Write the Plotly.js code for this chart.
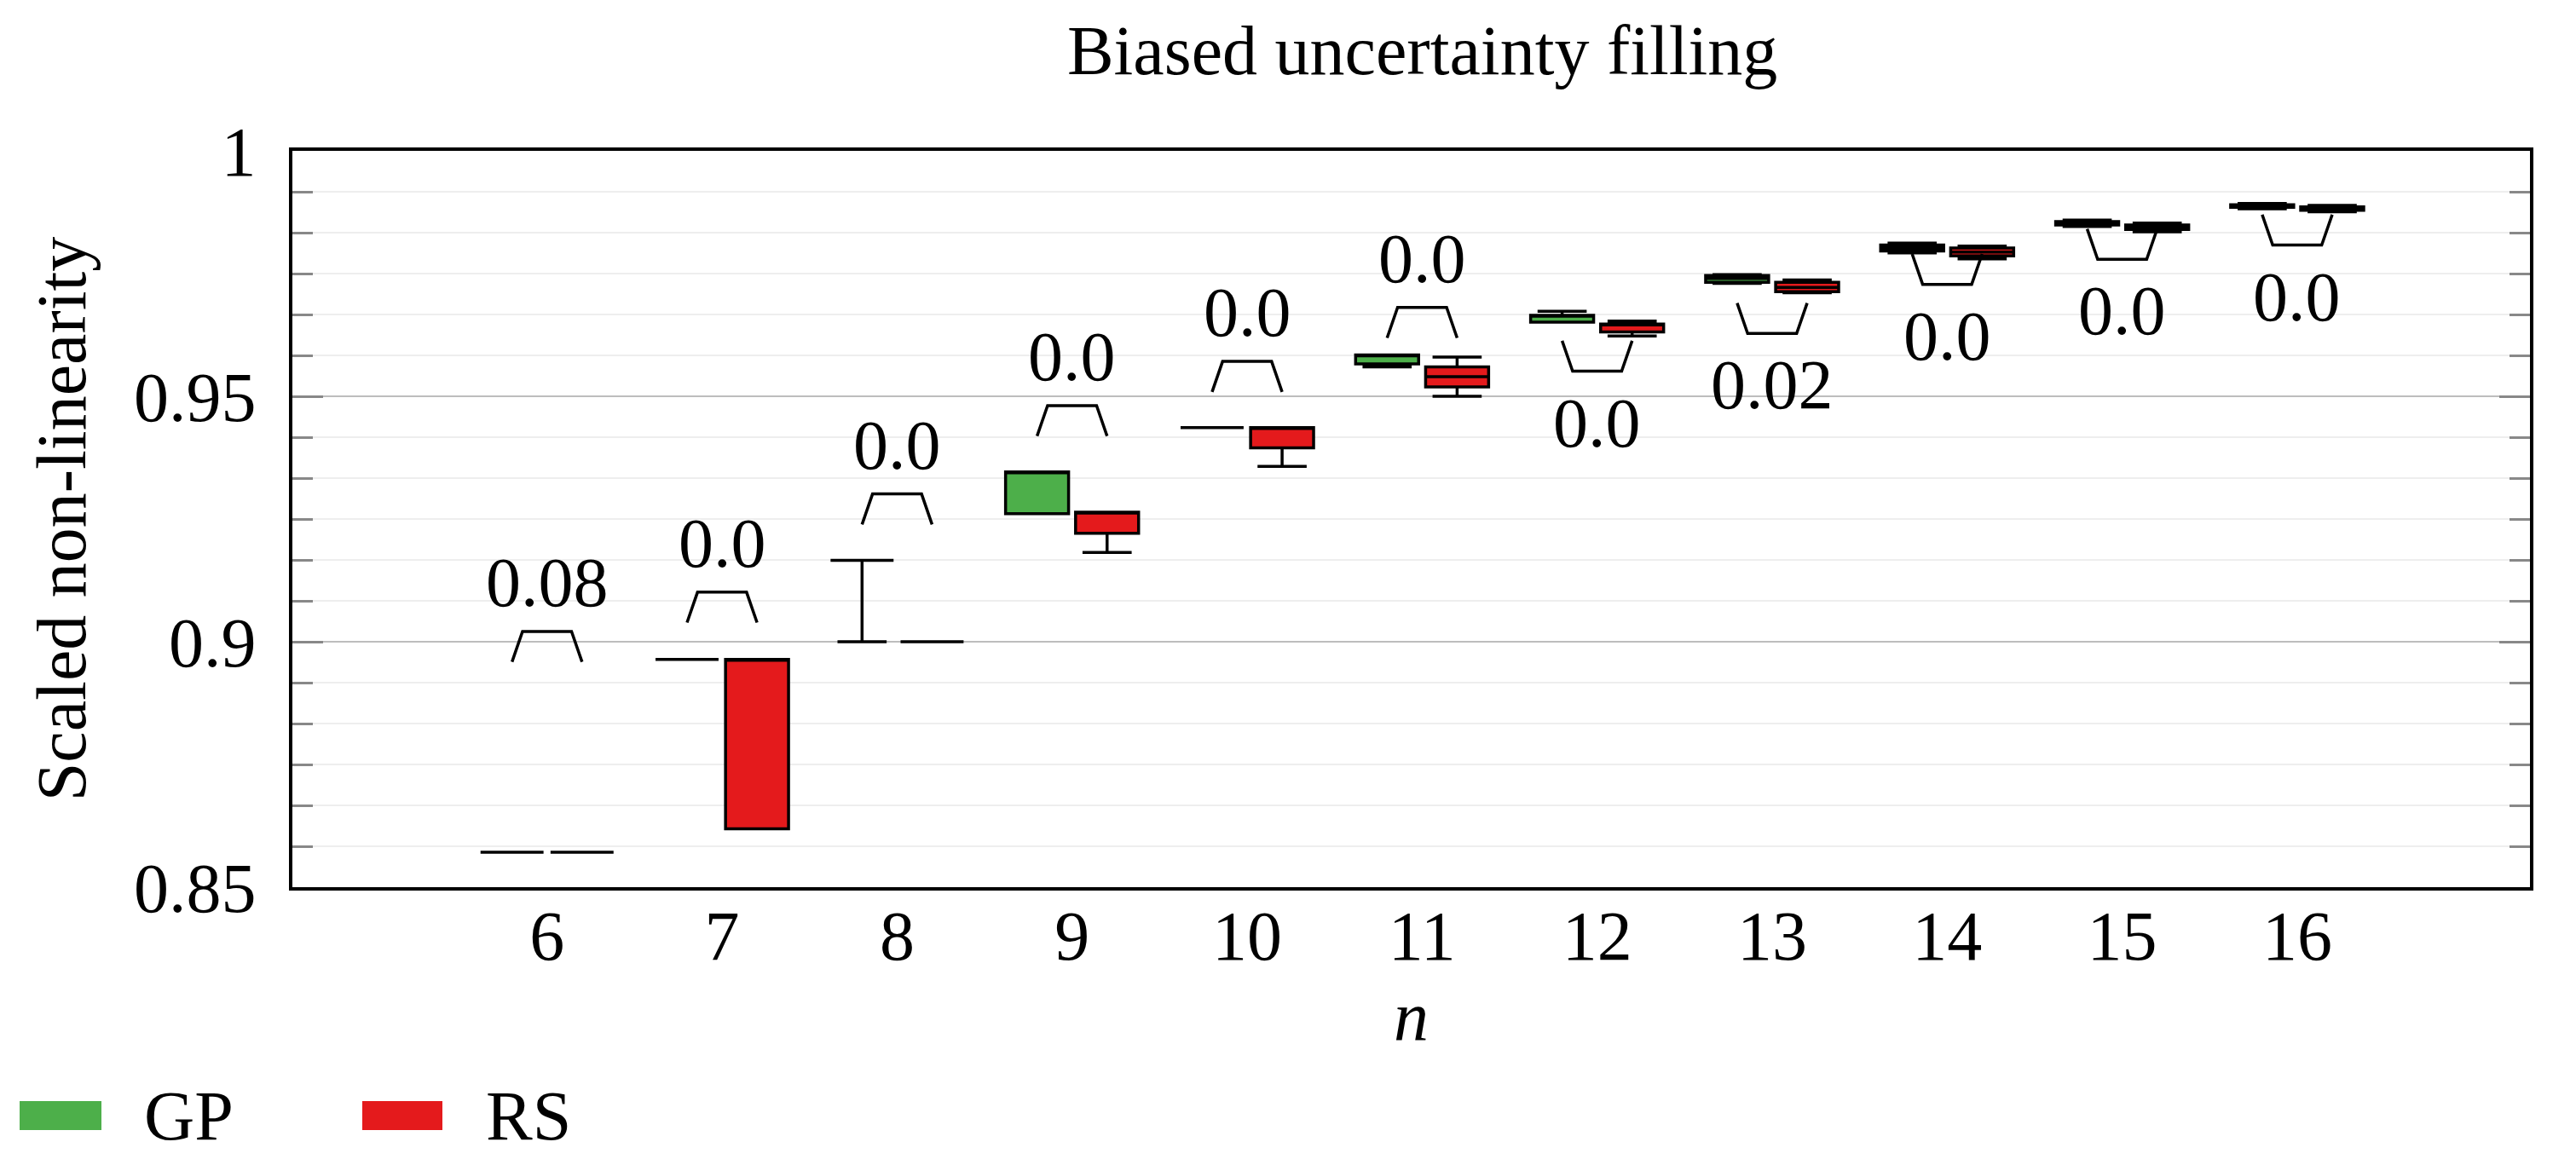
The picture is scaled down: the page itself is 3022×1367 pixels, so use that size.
<!DOCTYPE html>
<html>
<head>
<meta charset="utf-8">
<script src="https://cdn.plot.ly/plotly-3.0.1.min.js"></script>
<style>html,body{margin:0;padding:0;background:#fff;}#chart{width:3022px;height:1367px;}</style>
</head>
<body>
<div id="chart"></div>
<script>
// ---- data ----
const nVals = [6, 7, 8, 9, 10, 11, 12, 13, 14, 15, 16];
const nLabels = ['6', '7', '8', '9', '10', '11', '12', '13', '14', '15', '16'];

const gpLow  = [0.8571, 0.8964, 0.9000, 0.9261, 0.9436, 0.9560, 0.9651, 0.9730, 0.9792, 0.9846, 0.9882];
const gpQ1   = [0.8571, 0.8964, 0.9166, 0.9261, 0.9436, 0.9566, 0.9651, 0.9732, 0.9796, 0.9849, 0.9885];
const gpMed  = [0.8571, 0.8964, 0.9166, 0.9346, 0.9436, 0.9584, 0.9665, 0.9740, 0.9802, 0.9853, 0.9888];
const gpQ3   = [0.8571, 0.8964, 0.9166, 0.9346, 0.9436, 0.9584, 0.9665, 0.9746, 0.9808, 0.9856, 0.9890];
const gpHigh = [0.8571, 0.8964, 0.9166, 0.9346, 0.9436, 0.9584, 0.9673, 0.9748, 0.9812, 0.9859, 0.9893];

const rsLow  = [0.8571, 0.8619, 0.9000, 0.9182, 0.9357, 0.9500, 0.9623, 0.9711, 0.9780, 0.9835, 0.9876];
const rsQ1   = [0.8571, 0.8619, 0.9000, 0.9221, 0.9395, 0.9519, 0.9631, 0.9713, 0.9786, 0.9840, 0.9879];
const rsMed  = [0.8571, 0.8964, 0.9000, 0.9264, 0.9436, 0.9540, 0.9647, 0.9722, 0.9794, 0.9844, 0.9883];
const rsQ3   = [0.8571, 0.8964, 0.9000, 0.9264, 0.9436, 0.9560, 0.9647, 0.9732, 0.9802, 0.9849, 0.9886];
const rsHigh = [0.8571, 0.8964, 0.9000, 0.9264, 0.9436, 0.9580, 0.9653, 0.9737, 0.9806, 0.9853, 0.9889];

const pLabels      = ['0.08', '0.0', '0.0', '0.0', '0.0', '0.0', '0.0', '0.02', '0.0', '0.0', '0.0'];
const bracketLevel = [0.9021, 0.9101, 0.9301, 0.9481, 0.9571, 0.9681, 0.9551, 0.9628, 0.9728, 0.9779, 0.9808];
const bracketDir   = ['up', 'up', 'up', 'up', 'up', 'up', 'down', 'down', 'down', 'down', 'down'];

const seriesNames = ['GP', 'RS'];
const seriesColors = ['#4daf4a', '#e41a1c'];

const yTickVals = [0.85, 0.9, 0.95, 1];
const yTickText = ['0.85', '0.9', '0.95', '1'];

// ---- style ----
const FONT = "'Liberation Serif', 'DejaVu Serif', serif";
const FS = 82;
const W = 3022, H = 1367;
const M = {l: 343, r: 54, t: 177, b: 326};
const legH = 0.0062;   // bracket leg height (data units)
const legOuter = 0.2, legInner = 0.14;

function boxTrace(name, color, lo, q1, med, q3, hi) {
  return {
    type: 'box', name: name, x: nVals,
    lowerfence: lo, q1: q1, median: med, q3: q3, upperfence: hi,
    fillcolor: color, line: {color: '#000', width: 3.5},
    whiskerwidth: 0.78, boxpoints: false, showlegend: false, hoverinfo: 'skip'
  };
}

const bx = [], by = [];
nVals.forEach((n, i) => {
  const lv = bracketLevel[i];
  const leg = bracketDir[i] === 'up' ? lv - legH : lv + legH;
  bx.push(n - legOuter, n - legInner, n + legInner, n + legOuter, null);
  by.push(leg, lv, lv, leg, null);
});

const traces = [
  boxTrace(seriesNames[0], seriesColors[0], gpLow, gpQ1, gpMed, gpQ3, gpHigh),
  boxTrace(seriesNames[1], seriesColors[1], rsLow, rsQ1, rsMed, rsQ3, rsHigh),
  {type: 'scatter', mode: 'lines', x: bx, y: by, line: {color: '#000', width: 3.5},
   showlegend: false, hoverinfo: 'skip', connectgaps: false}
];

const annotations = nVals.map((n, i) => ({
  x: n, y: bracketLevel[i], xref: 'x', yref: 'y', text: pLabels[i], showarrow: false,
  xanchor: 'center', yanchor: bracketDir[i] === 'up' ? 'bottom' : 'top',
  yshift: bracketDir[i] === 'up' ? 10 : -13,
  font: {family: FONT, size: FS, color: '#000'}
}));

// custom legend (pixel -> paper conversion)
const pw = W - M.l - M.r, ph = H - M.t - M.b;
const px = v => (v - M.l) / pw;
const py = v => (H - M.b - v) / ph;
const legendItems = [
  {x0: 23, x1: 119, tx: 167},
  {x0: 425, x1: 519, tx: 568}
];
const shapes = [];
legendItems.forEach((it, k) => {
  shapes.push({type: 'rect', xref: 'paper', yref: 'paper', x0: px(it.x0), x1: px(it.x1),
    y0: py(1292), y1: py(1326), fillcolor: seriesColors[k], line: {width: 0}});
  annotations.push({xref: 'paper', yref: 'paper', x: px(it.tx), y: py(1309), xanchor: 'left', yanchor: 'middle',
    text: seriesNames[k], showarrow: false, font: {family: FONT, size: FS, color: '#000'}});
});

const layout = {
  width: W, height: H, margin: M,
  paper_bgcolor: '#fff', plot_bgcolor: '#fff',
  font: {family: FONT, size: FS, color: '#000'},
  title: {text: 'Biased uncertainty filling', font: {family: FONT, size: FS, color: '#000'},
          x: 0.505, xref: 'paper', y: 1 - 30 / H, yref: 'container', yanchor: 'top'},
  boxmode: 'group', boxgap: 0.2, boxgroupgap: 0.1,
  showlegend: false,
  xaxis: {
    range: [4.545, 17.33], tickvals: nVals, ticktext: nLabels, ticks: '',
    showgrid: false, zeroline: false, showline: true, linecolor: '#000', linewidth: 4, mirror: true,
    tickfont: {family: FONT, size: FS}, ticklabelstandoff: -17,
    title: {text: '<i>n</i>', font: {family: FONT, size: FS}, standoff: 20}
  },
  yaxis: {
    range: [0.85, 1], tickvals: yTickVals, ticktext: yTickText,
    ticks: 'inside', ticklen: 36, tickwidth: 3, tickcolor: '#888',
    showgrid: true, gridcolor: '#bdbdbd', gridwidth: 2, zeroline: false,
    showline: true, linecolor: '#000', linewidth: 4, mirror: 'allticks',
    tickfont: {family: FONT, size: FS}, ticklabelstandoff: 22,
    minor: {dtick: 0.05 / 6, ticks: 'inside', ticklen: 24, tickwidth: 3, tickcolor: '#888',
            showgrid: true, gridcolor: '#eeeeee', gridwidth: 2},
    title: {text: 'Scaled non-linearity', font: {family: FONT, size: FS}, standoff: 30}
  },
  shapes: shapes,
  annotations: annotations
};

Plotly.newPlot('chart', traces, layout, {staticPlot: true, displayModeBar: false});
</script>
</body>
</html>
